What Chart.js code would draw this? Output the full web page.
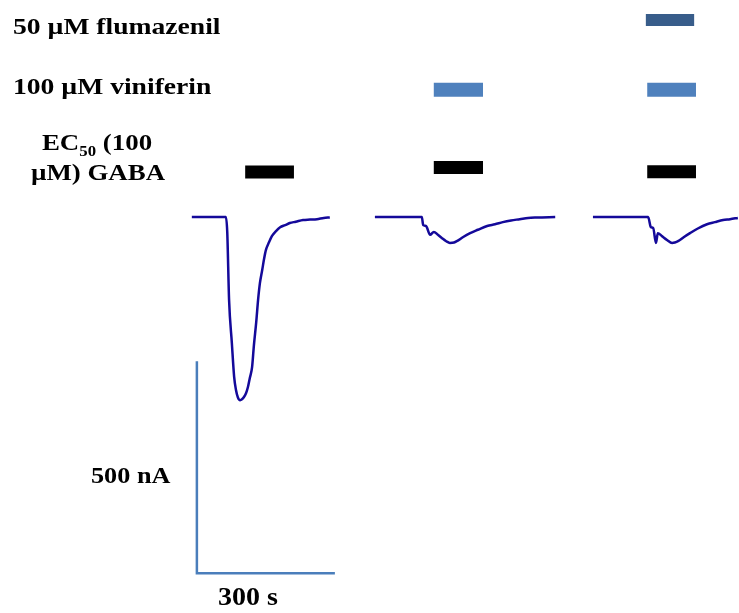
<!DOCTYPE html>
<html>
<head>
<meta charset="utf-8">
<script src="https://cdn.jsdelivr.net/npm/chart.js@4.4.0/dist/chart.umd.min.js"></script>
<style>
  body { margin: 0; background: #fff; }
  #wrap { width: 739px; height: 613px; }
</style>
</head>
<body>
<div id="wrap"><canvas id="trace" width="739" height="613"></canvas></div>
<script>
// current recordings, time in s, current in nA
var trace1T = [417, 491, 494, 498, 504, 509, 513, 517, 522, 526, 530, 535, 539, 543, 548, 552, 557, 561, 565, 570, 574, 578, 585, 591, 600, 609, 620, 630, 643, 659, 674, 689, 704, 717];
var trace1I = [0, 0, -35, -196, -297, -377, -408, -425, -432, -430, -425, -415, -401, -380, -354, -302, -248, -196, -156, -125, -99, -78, -59, -45, -33, -24, -19, -14, -11, -7, -6, -5, -2, -1];

var trace2T = [815, 917, 920, 926, 935, 943, 952, 961, 970, 978, 987, 993, 1007, 1022, 1039, 1059, 1076, 1093, 1111, 1130, 1148, 1167, 1207];
var trace2I = [0, 0, -19, -21, -42, -35, -42, -50, -57, -61, -60, -57, -47, -38, -30, -21, -17, -12, -8, -5, -2, -1, 0];

var trace3T = [1289, 1409, 1415, 1420, 1426, 1430, 1439, 1450, 1461, 1467, 1474, 1487, 1500, 1517, 1537, 1554, 1572, 1587, 1604];
var trace3I = [0, 0, -24, -26, -61, -38, -45, -54, -61, -60, -57, -47, -38, -27, -17, -12, -7, -5, -2];

// drug application windows (start, end) in s
var gabaOn = [533, 943, 1407];
var gabaOff = [639, 1050, 1513];
var viniferinOn = [943, 1407];
var viniferinOff = [1050, 1513];
var flumazenilOn = [1404];
var flumazenilOff = [1509];

// scale bar sizes
var scaleTime = 300;   // s
var scaleCurrent = 500; // nA

var toPoints = function (xs, ys) {
  return xs.map(function (x, i) { return { x: x, y: ys[i] }; });
};

var traceStyle = {
  borderColor: '#14099a',
  borderWidth: 2.5,
  pointRadius: 0,
  cubicInterpolationMode: 'monotone',
  fill: false
};

var datasets = [];
[[trace1T, trace1I], [trace2T, trace2I], [trace3T, trace3I]].forEach(function (t) {
  datasets.push(Object.assign({ data: toPoints(t[0], t[1]) }, traceStyle));
});

// application bars sit in rows above the traces
var addBars = function (on, off, levels, color, width) {
  on.forEach(function (s, i) {
    datasets.push({
      data: [{ x: s, y: levels[i] }, { x: off[i], y: levels[i] }],
      borderColor: color,
      borderWidth: width,
      borderCapStyle: 'butt',
      pointRadius: 0
    });
  });
};
addBars(gabaOn, gabaOff, [106, 117, 107], '#000000', 13);
addBars(viniferinOn, viniferinOff, [300, 300], '#4f81bd', 14);
addBars(flumazenilOn, flumazenilOff, [465], '#385d8a', 12);

// L-shaped scale bar
var sbX = 428, sbY = -840;
datasets.push({
  data: [{ x: sbX, y: sbY + scaleCurrent }, { x: sbX, y: sbY }, { x: sbX + scaleTime, y: sbY }],
  borderColor: '#4a7ebb',
  borderWidth: 2.5,
  borderJoinStyle: 'miter',
  borderCapStyle: 'butt',
  pointRadius: 0,
  tension: 0
});

var textFont = "'Liberation Serif', 'Times New Roman', serif";

var drawLabel = function (ctx, parts, x, y, align, sx) {
  // parts: [text, size, dy]
  var w = 0;
  parts.forEach(function (p) {
    ctx.font = 'bold ' + p[1] + 'px ' + textFont;
    w += ctx.measureText(p[0]).width;
  });
  var left = align === 'center' ? x - w * sx / 2 : x;
  ctx.save();
  ctx.translate(left, y);
  ctx.scale(sx, 1);
  var cx = 0;
  parts.forEach(function (p) {
    ctx.font = 'bold ' + p[1] + 'px ' + textFont;
    ctx.fillText(p[0], cx, p[2] || 0);
    cx += ctx.measureText(p[0]).width;
  });
  ctx.restore();
};

var labels = {
  id: 'labels',
  afterDraw: function (chart) {
    var ctx = chart.ctx;
    ctx.save();
    ctx.fillStyle = '#000';
    ctx.textBaseline = 'alphabetic';
    ctx.textAlign = 'left';
    drawLabel(ctx, [['50 \u00b5M flumazenil', 24]], 13, 34, 'left', 1.15);
    drawLabel(ctx, [['100 \u00b5M viniferin', 24]], 13, 94, 'left', 1.15);
    drawLabel(ctx, [['EC', 24], ['50', 15, 6], [' (100', 24]], 97, 150, 'center', 1.12);
    drawLabel(ctx, [['\u00b5M) GABA', 24]], 98, 180, 'center', 1.12);
    drawLabel(ctx, [['500 nA', 23]], 91, 483, 'left', 1.14);
    drawLabel(ctx, [['300 s', 25]], 218, 605, 'left', 1.12);
    ctx.restore();
  }
};

new Chart(document.getElementById('trace'), {
  type: 'line',
  data: { datasets: datasets },
  options: {
    responsive: false,
    animation: false,
    devicePixelRatio: 1,
    layout: { padding: 0 },
    plugins: { legend: { display: false }, tooltip: { enabled: false } },
    scales: {
      x: { type: 'linear', min: 0, max: 1606.5, display: false },
      y: { type: 'linear', min: -934, max: 512, display: false }
    }
  },
  plugins: [labels]
});
</script>
</body>
</html>
